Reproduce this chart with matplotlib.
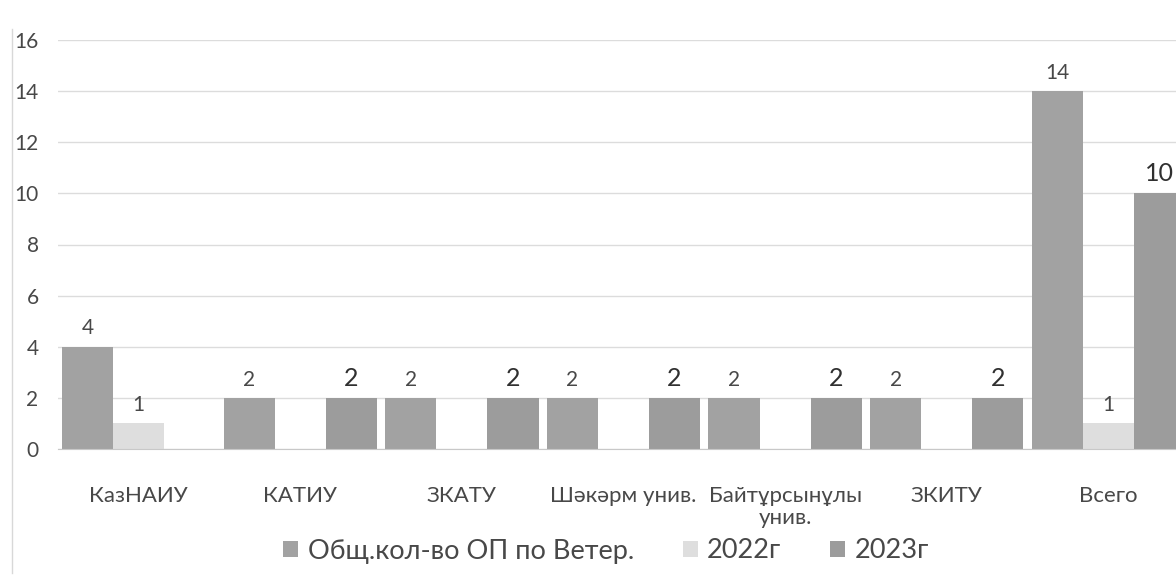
import numpy as np
import matplotlib.pyplot as plt
from matplotlib.lines import Line2D

# Данные диаграммы
categories = ["КазНАИУ", "КАТИУ", "ЗКАТУ", "Шәкәрм унив.", "Байтұрсынұлы\nунив.", "ЗКИТУ", "Всего"]
total_op = [4, 2, 2, 2, 2, 2, 14]
year_2022 = [1, 0, 0, 0, 0, 0, 1]
year_2023 = [0, 2, 2, 2, 2, 2, 10]
series_names = ["Общ.кол-во ОП по Ветер.", "2022г", "2023г"]
y_ticks = [0, 2, 4, 6, 8, 10, 12, 14, 16]

text_color = "#484848"
colors = ["#a2a2a2", "#dedede", "#9c9c9c"]

plt.rcParams['font.family'] = ['Lato', 'DejaVu Sans']

fig = plt.figure(figsize=(11.76, 5.85), dpi=100)
ax = fig.add_axes([58 / 1176, 1 - 449 / 585, 1131 / 1176, 409 / 585])

x = np.arange(len(categories))
w = 0.316
series = [total_op, year_2022, year_2023]
bars = []
for i, (vals, name, c) in enumerate(zip(series, series_names, colors)):
    b = ax.bar(x + (i - 1) * w, vals, width=w, color=c, label=name, zorder=2)
    bars.append(b)
    labels = [str(v) if v != 0 else "" for v in vals]
    fs = 18 if i == 2 else 15
    col = "#303030" if i == 2 else text_color
    ax.bar_label(b, labels=labels, padding=6, fontsize=fs, color=col)

ax.set_xlim(-0.5, len(categories) - 0.5)
ax.set_ylim(0, 16)
ax.set_yticks(y_ticks)
ax.set_xticks(x)
ax.set_xticklabels(categories, fontsize=16, color=text_color, linespacing=1.1)
ax.tick_params(axis='x', length=0, pad=27)
ax.tick_params(axis='y', length=0, pad=14, labelsize=15, labelcolor=text_color)

ax.grid(axis='y', color="#dcdcdc", linewidth=1, zorder=0)
for s in ["top", "right", "left"]:
    ax.spines[s].set_visible(False)
ax.spines["bottom"].set_color("#c8c8c8")

# рамка области диаграммы слева
fig.add_artist(Line2D([12 / 1176, 12 / 1176], [0.02, 0.95], color="#d8d8d8", linewidth=1))

fig.legend(handles=bars, labels=series_names, loc="center",
           bbox_to_anchor=(606 / 1176, 1 - 551 / 585), ncol=3, frameon=False,
           fontsize=19.5, labelcolor=text_color, handlelength=0.55, handleheight=0.55,
           handletextpad=0.35, columnspacing=1.8)

fig.savefig("out.png", dpi=100)
